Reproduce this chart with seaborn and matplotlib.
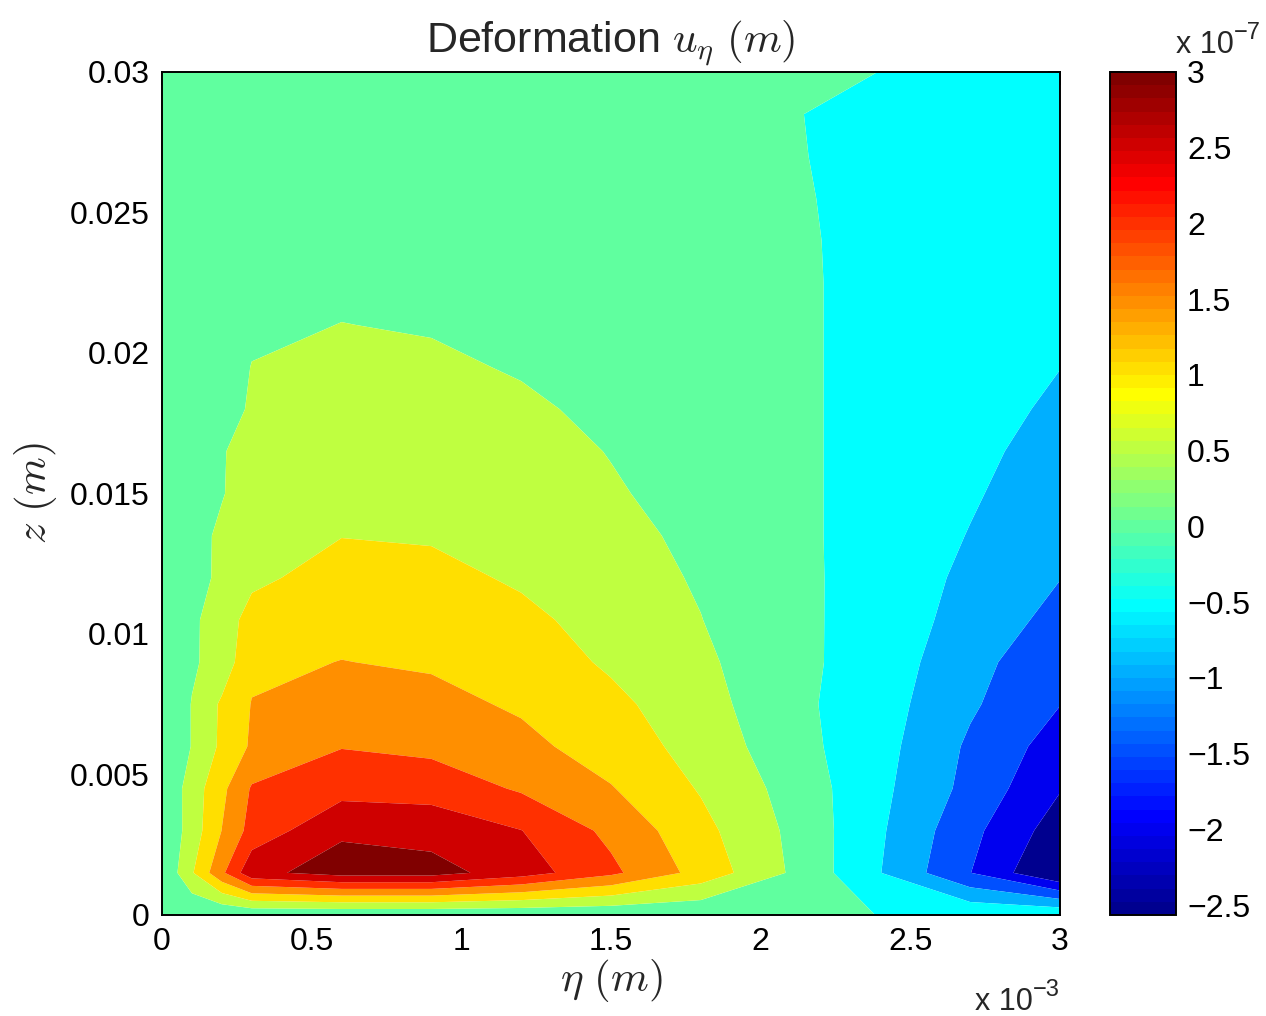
import numpy as np
import matplotlib
matplotlib.use("Agg")
import matplotlib.pyplot as plt
import seaborn as sns
from matplotlib import colors as mcolors
from matplotlib import cm
from matplotlib.ticker import FuncFormatter

# eta positions (x 1e-3 m) and z positions (m) of the sampled field
eta = [0, 0.1, 0.2, 0.3, 0.6, 0.9, 1.2, 1.5, 1.8, 2.1, 2.4, 2.7, 3.0]
z = [0, 0.0015, 0.003, 0.0045, 0.006, 0.0075, 0.009, 0.0105, 0.012, 0.0135,
     0.015, 0.0165, 0.018, 0.0195, 0.021, 0.0225, 0.024, 0.0255, 0.027,
     0.0285, 0.03]

# deformation u_eta (x 1e-7 m), one row per z value
u_rows = [
    [0.02, 0.02, 0.02, 0.05, 0.05, 0.05, 0.05, 0.05, 0.05, 0.08, -0.005, -0.06, -0.05],
    [0.02, 0.95, 1.9, 2.87, 3.2, 3.2, 2.74, 2.11, 1.32, 0.45, -0.49, -1.49, -2.55],
    [0.02, 0.73, 1.51, 2.185, 2.93, 2.8, 2.51, 1.88, 1.15, 0.41, -0.44, -1.36, -2.26],
    [0.02, 0.735, 1.38, 2.05, 2.32, 2.31, 1.94, 1.53, 0.96, 0.33, -0.385, -1.15, -1.97],
    [0.02, 0.52, 1.10, 1.57, 1.98, 1.87, 1.64, 1.26, 0.82, 0.19, -0.33, -1.08, -1.73],
    [0.02, 0.52, 1.08, 1.52, 1.74, 1.65, 1.43, 1.12, 0.70, 0.13, -0.29, -0.93, -1.49],
    [0.03, 0.433, 0.70, 1.395, 1.51, 1.44, 1.27, 0.93, 0.60, 0.13, -0.22, -0.85, -1.33],
    [0.04, 0.39, 0.80, 1.15, 1.34, 1.29, 1.11, 0.82, 0.51, 0.12, -0.20, -0.70, -1.15],
    [0.05, 0.30, 0.61, 0.916, 1.17, 1.13, 0.94, 0.72, 0.45, 0.115, -0.19, -0.61, -0.99],
    [0.06, 0.30, 0.60, 0.83, 0.99, 0.957, 0.84, 0.63, 0.40, 0.11, -0.19, -0.52, -0.86],
    [0.07, 0.27, 0.47, 0.75, 0.89, 0.86, 0.74, 0.54, 0.36, 0.11, -0.19, -0.45, -0.76],
    [0.08, 0.26, 0.47, 0.67, 0.79, 0.76, 0.65, 0.485, 0.32, 0.11, -0.19, -0.40, -0.66],
    [0.09, 0.24, 0.33, 0.55, 0.69, 0.66, 0.56, 0.42, 0.29, 0.11, -0.19, -0.35, -0.57],
    [0.10, 0.23, 0.32, 0.51, 0.595, 0.56, 0.47, 0.37, 0.26, 0.11, -0.19, -0.31, -0.495],
    [0.10, 0.22, 0.30, 0.435, 0.505, 0.473, 0.40, 0.33, 0.24, 0.11, -0.19, -0.28, -0.44],
    [0.11, 0.21, 0.28, 0.39, 0.43, 0.41, 0.35, 0.29, 0.22, 0.11, -0.19, -0.26, -0.40],
    [0.11, 0.20, 0.27, 0.35, 0.37, 0.35, 0.31, 0.26, 0.20, 0.10, -0.19, -0.25, -0.36],
    [0.11, 0.19, 0.26, 0.31, 0.32, 0.31, 0.27, 0.23, 0.18, 0.08, -0.20, -0.24, -0.33],
    [0.12, 0.18, 0.25, 0.28, 0.28, 0.27, 0.24, 0.21, 0.17, 0.06, -0.24, -0.23, -0.31],
    [0.12, 0.18, 0.24, 0.26, 0.25, 0.24, 0.22, 0.19, 0.16, 0.04, -0.23, -0.22, -0.29],
    [0.12, 0.17, 0.23, 0.24, 0.23, 0.22, 0.20, 0.18, 0.15, 0.15, -0.005, -0.20, -0.28],
]

levels = [-3, -2, -1.5, -1, -0.5, 0, 0.5, 1, 1.5, 2, 2.5, 3, 3.5]
u_min, u_max = -2.566, 3.0
cbar_ticks = [-2.5, -2, -1.5, -1, -0.5, 0, 0.5, 1, 1.5, 2, 2.5, 3]
eta_ticks = [0, 0.5, 1, 1.5, 2, 2.5, 3]
z_ticks = [0, 0.005, 0.01, 0.015, 0.02, 0.025, 0.03]


def matlab_jet(m=64):
    # same construction as MATLAB's jet(m)
    n = int(np.ceil(m / 4))
    u = np.concatenate([np.arange(1, n + 1) / n, np.ones(n - 1),
                        np.arange(n, 0, -1) / n])
    g = int(np.ceil(n / 2)) - (1 if m % 4 == 1 else 0) + np.arange(1, len(u) + 1)
    r = g + n
    b = g - n
    J = np.zeros((m, 3))
    for idx, ch in ((r, 0), (g, 1), (b, 2)):
        ok = (idx >= 1) & (idx <= m)
        J[idx[ok] - 1, ch] = u[ok]
    return mcolors.ListedColormap(J)


sns.set_style("white")
plt.rcParams["font.family"] = ["Liberation Sans", "DejaVu Sans"]
plt.rcParams["mathtext.fontset"] = "cm"
plt.rcParams["axes.unicode_minus"] = True

fig = plt.figure(figsize=(12.66, 10.16), dpi=100)
ax = fig.add_axes([162 / 1266, 1 - 915 / 1016, 898 / 1266, 843 / 1016])
cax = fig.add_axes([1110 / 1266, 1 - 915 / 1016, 66 / 1266, 843 / 1016])

jet = matlab_jet(64)
norm = mcolors.Normalize(u_min, u_max)
# MATLAB style: each band takes the colour of its lower level
fill_colors = [jet(norm(max(lv, u_min))) for lv in levels[:-1]]

U = np.array(u_rows)
ax.contourf(eta, z, U, levels=levels, colors=fill_colors, antialiased=True)

fmt = FuncFormatter(lambda v, p: f"{v:g}".replace("-", "\u2212"))

ax.set_xlim(0, 3)
ax.set_ylim(0, 0.03)
ax.set_xticks(eta_ticks)
ax.set_yticks(z_ticks)
ax.xaxis.set_major_formatter(fmt)
ax.yaxis.set_major_formatter(fmt)
ax.tick_params(direction="in", top=True, right=True, length=9, width=1.2,
               labelsize=23, colors="black", pad=9)
for s in ax.spines.values():
    s.set_color("black")
    s.set_linewidth(1.4)

ax.set_title(r"Deformation $u_\eta$ $(m)$", fontsize=31, pad=14)
ax.set_xlabel(r"$\eta\ (m)$", fontsize=31, labelpad=0)
ax.set_ylabel(r"$z\ (m)$", fontsize=31, labelpad=8)

sm = cm.ScalarMappable(norm=norm, cmap=jet)
cb = fig.colorbar(sm, cax=cax, ticks=cbar_ticks)
cb.ax.yaxis.set_major_formatter(fmt)
cb.ax.tick_params(direction="in", left=True, right=True, length=9, width=1.2,
                  labelsize=23, colors="black", pad=8)
cb.outline.set_edgecolor("black")
cb.outline.set_linewidth(1.4)

# MATLAB style exponent labels
fig.text(975 / 1266, 1 - 1010 / 1016, "x 10", fontsize=22, va="baseline")
fig.text(1033 / 1266, 1 - 996 / 1016, "\u22123", fontsize=17, va="baseline")
fig.text(1176 / 1266, 1 - 53 / 1016, "x 10", fontsize=22, va="baseline")
fig.text(1234 / 1266, 1 - 39 / 1016, "\u22127", fontsize=17, va="baseline")

fig.savefig("out.png", dpi=100, facecolor="white")
